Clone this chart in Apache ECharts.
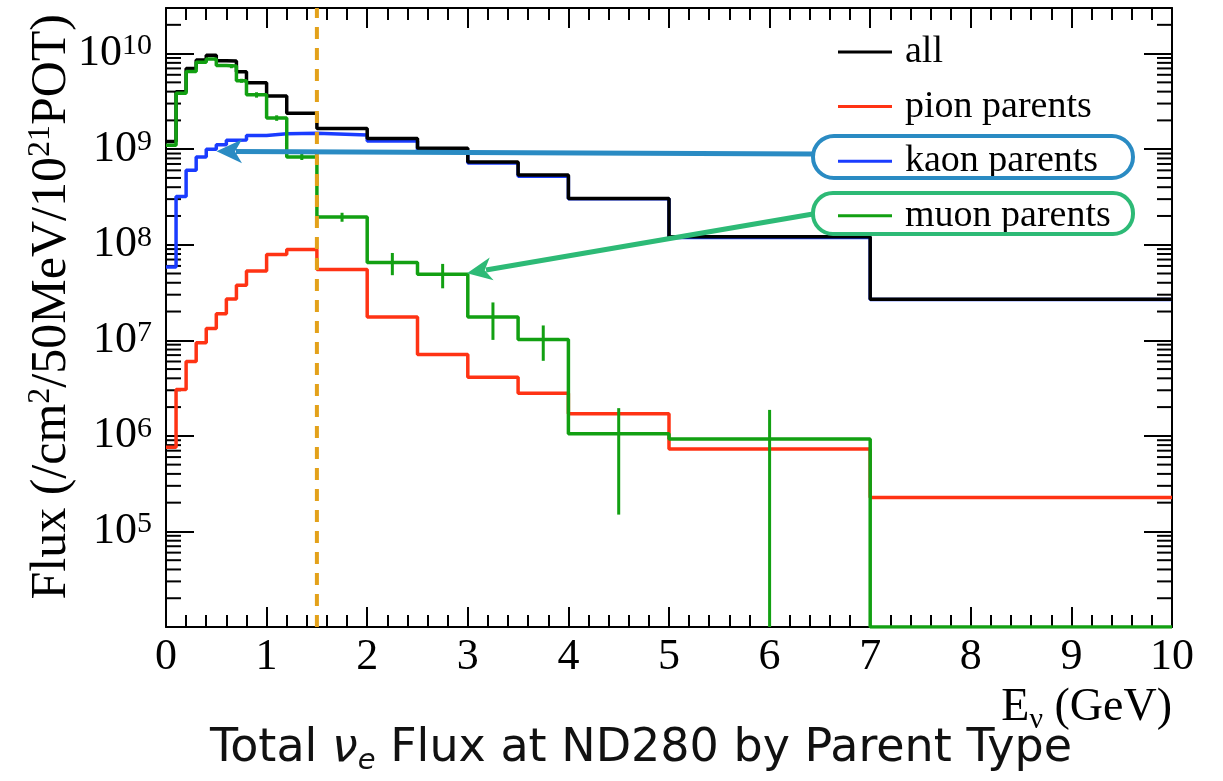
<!DOCTYPE html>
<html>
<head>
<meta charset="utf-8">
<script src="https://cdn.jsdelivr.net/npm/echarts@6/dist/echarts.min.js"></script>
<style>
  html, body { margin: 0; padding: 0; background: #ffffff; }
  #chart { width: 1223px; height: 781px; }
</style>
</head>
<body>
<div id="chart"></div>
<script>
// Neutrino energy bin edges (GeV)
const binEdges = [0, 0.1, 0.2, 0.3, 0.4, 0.5, 0.6, 0.7, 0.8, 1.0, 1.2, 1.5, 2.0, 2.5, 3.0, 3.5, 4.0, 5.0, 7.0, 10.0];

// nu_e flux per bin (/cm^2/50MeV/1e21 POT)
const fluxAll  = [1.2e9, 3.98e9, 7.0e9, 8.55e9, 9.6e9, 8.4e9, 8.35e9, 6.45e9, 4.94e9, 3.6e9, 2.37e9, 1.65e9, 1.29e9, 1.02e9, 7.36e8, 5.35e8, 3.05e8, 1.21e8, 2.69e7];
const fluxPion = [7.6e5, 3.05e6, 6.0e6, 9.4e6, 1.33e7, 1.9e7, 2.7e7, 3.77e7, 5.3e7, 7.9e7, 8.9e7, 5.5e7, 1.75e7, 7.1e6, 4.1e6, 2.8e6, 1.7e6, 7.3e5, 2.27e5];
const fluxKaon = [5.85e7, 3.2e8, 6.0e8, 8.3e8, 1.0e9, 1.11e9, 1.24e9, 1.25e9, 1.39e9, 1.45e9, 1.47e9, 1.41e9, 1.22e9, 9.6e8, 7.15e8, 5.22e8, 3.02e8, 1.19e8, 2.67e7];
const fluxMuon = [1.1e9, 3.85e9, 6.5e9, 8.1e9, 8.8e9, 7.5e9, 7.4e9, 5.2e9, 3.7e9, 2.12e9, 8.3e8, 1.95e8, 6.5e7, 4.9e7, 1.75e7, 1.02e7, 1.05e6, 9.3e5, 0];
const errMuon  = [3e7, 8e7, 1.2e8, 1.6e8, 2e8, 2.5e8, 3.7e8, 2.5e8, 2.4e8, 1.4e8, 6e7, 2.1e7, 1.7e7, 1.4e7, 7.4e6, 4.1e6, 9e5, 9.4e5, 0];

// Axis ranges and labelled decades
const xRange = [0, 10];
const yRange = [1e4, 3e10];
const yLabelExponents = [5, 6, 7, 8, 9, 10];

const seriesNames = ['all', 'pion parents', 'kaon parents', 'muon parents'];
const seriesColors = ['#000000', '#ff3314', '#1a3cff', '#12a012'];
// drawing order: pion, kaon, all, muon (later on top)
const seriesZ = [5, 3, 4, 6];

const SERIF = '"Liberation Serif", "Times New Roman", serif';
const SANS = '"DejaVu Sans", "Noto Sans", sans-serif';

// Step outline of a histogram: one horizontal segment per bin
function histPoints(edges, vals) {
  const pts = [];
  for (let i = 0; i < vals.length; i++) {
    const v = Math.max(vals[i], yRange[0]);
    pts.push([edges[i], v], [edges[i + 1], v]);
  }
  return pts;
}

// Log-axis minor tick positions (2..9 x 10^k)
const minorTickValues = [];
for (let k = 4; k <= 10; k++) {
  for (let m = 2; m <= 9; m++) {
    const v = m * Math.pow(10, k);
    if (v > yRange[0] && v < yRange[1]) minorTickValues.push([0, v]);
  }
}

const muonErrData = fluxMuon.map((v, i) => [(binEdges[i] + binEdges[i + 1]) / 2, v, errMuon[i]]);

const chart = echarts.init(document.getElementById('chart'), null, { renderer: 'canvas' });

const tickStyle = { color: '#000', width: 2 };

function xAxisDef(pos) {
  return {
    type: 'value', position: pos, min: xRange[0], max: xRange[1], interval: 1,
    axisLine: { show: true, onZero: false, lineStyle: tickStyle },
    axisTick: { show: true, inside: true, length: 20, lineStyle: tickStyle },
    minorTick: { show: true, splitNumber: 5, length: 12, lineStyle: tickStyle },
    splitLine: { show: false },
    axisLabel: pos === 'bottom'
      ? { show: true, fontSize: 44, fontFamily: SERIF, color: '#000', margin: 8, showMaxLabel: true, showMinLabel: true }
      : { show: false }
  };
}

function yAxisDef(pos) {
  return {
    type: 'log', logBase: 10, position: pos, min: yRange[0], max: yRange[1],
    axisLine: { show: true, onZero: false, lineStyle: tickStyle },
    axisTick: { show: true, inside: true, length: 28, lineStyle: tickStyle },
    minorTick: { show: false },
    splitLine: { show: false },
    axisLabel: pos === 'left' ? {
      show: true, margin: 14,
      formatter: function (val) {
        const e = Math.log10(val);
        const r = Math.round(e);
        if (Math.abs(e - r) > 1e-6 || yLabelExponents.indexOf(r) < 0) return '';
        return '{b|10}{e|' + r + '}';
      },
      rich: {
        b: { fontSize: 44, fontFamily: SERIF, color: '#000', lineHeight: 44 },
        e: { fontSize: 30, fontFamily: SERIF, color: '#000', verticalAlign: 'top', lineHeight: 28 }
      }
    } : { show: false }
  };
}

const lineSeries = [fluxAll, fluxPion, fluxKaon, fluxMuon].map((vals, i) => ({
  name: seriesNames[i],
  type: 'line',
  data: histPoints(binEdges, vals),
  symbol: 'none',
  z: seriesZ[i],
  color: seriesColors[i],
  itemStyle: { color: seriesColors[i] },
  lineStyle: { color: seriesColors[i], width: 3.5 },
  silent: true
}));

const option = {
  animation: false,
  backgroundColor: '#ffffff',
  grid: { left: 166, right: 51, top: 8, bottom: 154, containLabel: false },
  xAxis: [xAxisDef('bottom'), xAxisDef('top')],
  yAxis: [yAxisDef('left'), yAxisDef('right')],
  legend: {
    orient: 'vertical', left: 838, top: 32, padding: 0,
    itemWidth: 54, itemHeight: 3, itemGap: 14.6, icon: 'rect',
    selectedMode: false,
    data: seriesNames,
    textStyle: { fontSize: 38, fontFamily: SERIF, color: '#000', lineHeight: 40, padding: [0, 0, 0, 8] }
  },
  series: [
    {
      type: 'custom', name: 'minor ticks', silent: true, z: 1,
      data: minorTickValues,
      renderItem: function (params, api) {
        const y = api.coord([0, api.value(1)])[1];
        const cs = params.coordSys;
        return {
          type: 'group', children: [
            { type: 'line', shape: { x1: cs.x, y1: y, x2: cs.x + 15, y2: y }, style: { stroke: '#000', lineWidth: 2 } },
            { type: 'line', shape: { x1: cs.x + cs.width - 15, y1: y, x2: cs.x + cs.width, y2: y }, style: { stroke: '#000', lineWidth: 2 } }
          ]
        };
      }
    },
    ...lineSeries,
    {
      type: 'custom', name: 'muon errors', silent: true, z: 8,
      data: muonErrData,
      renderItem: function (params, api) {
        const xc = api.value(0), v = api.value(1), s = api.value(2);
        if (!(s > 0)) return null;
        const lo = Math.max(v - s, yRange[0]);
        const hi = Math.min(v + s, yRange[1]);
        const p1 = api.coord([xc, hi]);
        const p2 = api.coord([xc, lo]);
        return { type: 'line', shape: { x1: p1[0], y1: p1[1], x2: p2[0], y2: p2[1] },
                 style: { stroke: seriesColors[3], lineWidth: 3 } };
      }
    },
    {
      type: 'line', name: 'cut', silent: true, z: 10, symbol: 'none',
      data: [[1.5, yRange[0]], [1.5, yRange[1]]],
      lineStyle: { color: '#e3a11a', width: 4, type: [12, 9] }
    }
  ],
  graphic: [
    // callout boxes around two legend entries
    { type: 'rect', z: 20, shape: { x: 813, y: 136, width: 320, height: 42, r: 21 },
      style: { fill: 'none', stroke: '#2a8bc3', lineWidth: 4 } },
    { type: 'rect', z: 20, shape: { x: 813, y: 193, width: 320, height: 41, r: 20 },
      style: { fill: 'none', stroke: '#2dba76', lineWidth: 4 } },
    // arrows from the callouts to the curves
    { type: 'line', z: 20, shape: { x1: 813, y1: 154, x2: 236, y2: 151.4 },
      style: { stroke: '#2a8bc3', lineWidth: 5 } },
    { type: 'polygon', z: 20, shape: { points: [[216.5, 151.3], [242, 139.5], [235, 151.4], [242, 163.3]] },
      style: { fill: '#2a8bc3' } },
    { type: 'line', z: 20, shape: { x1: 813, y1: 214, x2: 486, y2: 270 },
      style: { stroke: '#2dba76', lineWidth: 5 } },
    { type: 'polygon', z: 20, shape: { points: [[467, 273.3], [489.7, 257.6], [484.7, 270.3], [493.6, 280.3]] },
      style: { fill: '#2dba76' } },
    // axis titles
    { type: 'text', z: 20, x: 1172, y: 706,
      style: { text: '{a|E}{s|ν}{a| (GeV)}', align: 'right', verticalAlign: 'middle',
        rich: { a: { fontSize: 46, fontFamily: SERIF, fill: '#000', lineHeight: 50, verticalAlign: 'bottom' },
                s: { fontSize: 30, fontFamily: SERIF, fill: '#000', lineHeight: 40, verticalAlign: 'bottom', padding: [0, 0, -4, 0] } } } },
    { type: 'text', z: 20, x: 52, y: 14, rotation: Math.PI / 2,
      style: { text: '{a|Flux (/cm}{p|2}{a|/50MeV/10}{p|21}{a|POT)}', align: 'right', verticalAlign: 'middle',
        rich: { a: { fontSize: 50, fontFamily: SERIF, fill: '#000', lineHeight: 54 },
                p: { fontSize: 32, fontFamily: SERIF, fill: '#000', lineHeight: 32, verticalAlign: 'top' } } } },
    // caption
    { type: 'text', z: 20, x: 641, y: 746,
      style: { text: '{a|Total }{n|ν}{s|e}{a| Flux at ND280 by Parent Type}', align: 'center', verticalAlign: 'middle',
        rich: { a: { fontSize: 46, fontFamily: SANS, fill: '#111', lineHeight: 52, verticalAlign: 'bottom' },
                n: { fontSize: 46, fontFamily: SANS, fontStyle: 'italic', fill: '#111', lineHeight: 52, verticalAlign: 'bottom' },
                s: { fontSize: 29, fontFamily: SANS, fontStyle: 'italic', fill: '#111', lineHeight: 38, verticalAlign: 'bottom', padding: [0, 0, -4, 0] } } } }
  ]
};

chart.setOption(option);
</script>
</body>
</html>
